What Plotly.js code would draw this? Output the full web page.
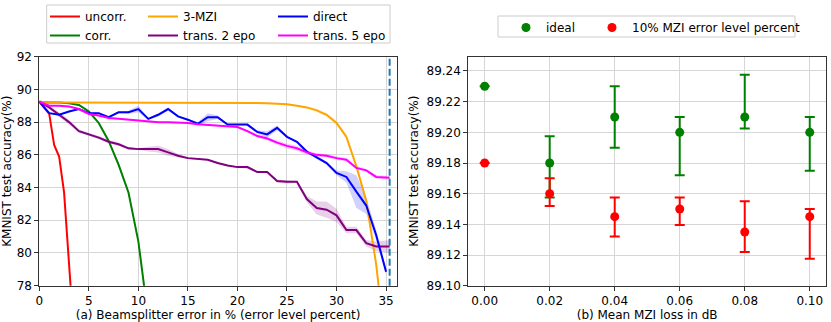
<!DOCTYPE html>
<html>
<head>
<meta charset="utf-8">
<script src="https://cdn.plot.ly/plotly-3.0.1.min.js"></script>
<style>
  html, body { margin: 0; padding: 0; background: #fff; }
  #chart { width: 831px; height: 322px; }
</style>
</head>
<body>
<div id="chart"></div>
<script>
// (a) accuracy vs beamsplitter error
const xUncorr = [0, 0.5, 1, 1.5, 2, 2.5, 3, 3.5];
const yUncorr = [89.25, 88.9, 88.5, 86.6, 85.9, 83.7, 79.6, 75.0];
const sUncorr = [0, 0.05, 0.1, 0.15, 0.15, 0.2, 0.2, 0.2];

const xCorr = [0, 1, 2, 3, 4, 5, 6, 7, 8, 9, 10, 11];
const yCorr = [89.25, 89.2, 89.2, 89.15, 89.05, 88.65, 87.95, 86.85, 85.4, 83.7, 80.7, 76.0];
const sCorr = [0, 0.02, 0.02, 0.03, 0.05, 0.08, 0.1, 0.12, 0.15, 0.15, 0.2, 0.2];

const xFull = [0, 1, 2, 3, 4, 5, 6, 7, 8, 9, 10, 11, 12, 13, 14, 15, 16, 17,
               18, 19, 20, 21, 22, 23, 24, 25, 26, 27, 28, 29, 30, 31, 32, 33, 34, 35];
const xTrans = [0, 1, 2, 3, 4, 5, 6, 7, 8, 9, 10, 11, 12, 13, 14, 15, 16, 17,
                18, 19, 20, 21, 22, 23, 24, 25, 26, 27, 28, 29, 30, 31, 32, 33, 34, 35.36];

const yMzi = [89.25, 89.2, 89.2, 89.2, 89.2, 89.2, 89.2, 89.2, 89.2, 89.2, 89.2, 89.2,
              89.2, 89.2, 89.2, 89.2, 89.2, 89.2, 89.2, 89.2, 89.2, 89.18, 89.17, 89.15,
              89.12, 89.1, 89.0, 88.9, 88.72, 88.45, 87.95, 87.1, 85.3, 83.2, 79.3, 74.0];
const sMzi = [0, 0, 0, 0, 0, 0, 0, 0, 0, 0, 0, 0, 0, 0, 0, 0, 0, 0, 0, 0, 0.02, 0.02,
              0.03, 0.03, 0.04, 0.05, 0.05, 0.06, 0.1, 0.12, 0.12, 0.15, 0.2, 0.2, 0.2, 0.2];

const yDirect = [89.25, 88.55, 88.45, 88.65, 88.8, 88.55, 88.55, 88.3, 88.6, 88.6, 88.8, 88.2,
                 88.45, 88.8, 88.35, 88.15, 87.9, 88.3, 88.3, 87.85, 87.85, 87.85, 87.4, 87.25,
                 87.65, 87.1, 86.8, 86.2, 85.85, 85.5, 84.9, 84.65, 83.75, 82.9, 81.1, 78.85];
const sDirect = [0, 0.05, 0.05, 0.05, 0.05, 0.05, 0.05, 0.05, 0.05, 0.1, 0.2, 0.05,
                 0.1, 0.1, 0.05, 0.05, 0.1, 0.25, 0.1, 0.05, 0.05, 0.05, 0.1, 0.2,
                 0.15, 0.05, 0.05, 0.05, 0.1, 0.1, 0.15, 0.35, 1.0, 0.5, 0.3, 0.2];

const yTrans2 = [89.25, 88.9, 88.45, 88.0, 87.45, 87.25, 87.05, 86.8, 86.65, 86.4, 86.35, 86.35,
                 86.35, 86.15, 85.95, 85.8, 85.75, 85.7, 85.5, 85.35, 85.25, 85.25, 84.95, 84.95,
                 84.4, 84.35, 84.35, 83.3, 82.75, 82.65, 82.3, 81.4, 81.4, 80.6, 80.4, 80.4];
const sTrans2 = [0, 0.1, 0.15, 0.15, 0.1, 0.1, 0.1, 0.1, 0.1, 0.1, 0.05, 0.15,
                 0.2, 0.2, 0.1, 0.05, 0.05, 0.05, 0.05, 0.05, 0.05, 0.1, 0.05, 0.05,
                 0.1, 0.1, 0.05, 0.2, 0.4, 0.5, 0.4, 0.2, 0.2, 0.2, 0.3, 0.4];

const yTrans5 = [89.25, 89.0, 89.0, 88.95, 88.8, 88.5, 88.4, 88.25, 88.2, 88.15, 88.1, 88.05,
                 88.0, 88.0, 87.97, 87.95, 87.87, 87.83, 87.8, 87.75, 87.7, 87.45, 87.15, 87.0,
                 86.75, 86.55, 86.4, 86.15, 86.0, 85.95, 85.8, 85.7, 85.2, 85.05, 84.65, 84.6];
const sTrans5 = [0, 0.05, 0.05, 0.05, 0.05, 0.05, 0.05, 0.05, 0.05, 0.05, 0.05, 0.05,
                 0.05, 0.05, 0.05, 0.05, 0.05, 0.05, 0.05, 0.05, 0.05, 0.08, 0.1, 0.1,
                 0.15, 0.15, 0.15, 0.15, 0.1, 0.1, 0.1, 0.1, 0.1, 0.1, 0.1, 0.1];

const threshold = 35.36;

// (b) accuracy vs MZI loss
const loss = [0.00, 0.02, 0.04, 0.06, 0.08, 0.10];
const yIdeal = [89.23, 89.18, 89.21, 89.20, 89.21, 89.20];
const idealUp = [0, 0.0175, 0.02, 0.01, 0.0275, 0.01];
const idealDown = [0, 0.0225, 0.02, 0.028, 0.0075, 0.025];
const yErr10 = [89.18, 89.16, 89.145, 89.15, 89.135, 89.145];
const err10Up = [0, 0.01, 0.0125, 0.0075, 0.02, 0.005];
const err10Down = [0, 0.008, 0.013, 0.0105, 0.013, 0.0275];

const FONT = 'DejaVu Sans, Arial, sans-serif';

function band(x, y, s, rgba) {
  const up = y.map((v, i) => v + s[i]);
  const lo = y.map((v, i) => v - s[i]);
  return [
    { x: x, y: up, type: 'scatter', mode: 'lines', line: { width: 0 }, hoverinfo: 'skip',
      showlegend: false, xaxis: 'x', yaxis: 'y' },
    { x: x, y: lo, type: 'scatter', mode: 'lines', line: { width: 0 }, fill: 'tonexty',
      fillcolor: rgba, hoverinfo: 'skip', showlegend: false, xaxis: 'x', yaxis: 'y' }
  ];
}

function line(x, y, name, color, legend) {
  return { x: x, y: y, name: name, type: 'scatter', mode: 'lines',
           line: { color: color, width: 2 }, xaxis: 'x', yaxis: 'y', legend: legend };
}

const traces = [].concat(
  band(xUncorr, yUncorr, sUncorr, 'rgba(255,0,0,0.18)'),
  band(xCorr, yCorr, sCorr, 'rgba(0,128,0,0.18)'),
  band(xFull, yMzi, sMzi, 'rgba(255,165,0,0.18)'),
  band(xFull, yDirect, sDirect, 'rgba(0,0,255,0.18)'),
  band(xTrans, yTrans2, sTrans2, 'rgba(128,0,128,0.18)'),
  band(xTrans, yTrans5, sTrans5, 'rgba(255,0,255,0.18)'),
  [
    line(xUncorr, yUncorr, 'uncorr.', '#ff0000', 'legend'),
    line(xCorr, yCorr, 'corr.', '#008000', 'legend'),
    line(xFull, yMzi, '3-MZI', '#ffa500', 'legend2'),
    line(xTrans, yTrans2, 'trans. 2 epo', '#800080', 'legend2'),
    line(xFull, yDirect, 'direct', '#0000ff', 'legend3'),
    line(xTrans, yTrans5, 'trans. 5 epo', '#ff00ff', 'legend3'),
    { x: loss, y: yIdeal, name: 'ideal', type: 'scatter', mode: 'markers',
      marker: { color: '#008000', size: 9 }, xaxis: 'x2', yaxis: 'y2', legend: 'legend4',
      error_y: { type: 'data', symmetric: false, array: idealUp, arrayminus: idealDown,
                 color: '#008000', thickness: 2, width: 5 } },
    { x: loss, y: yErr10, name: '10% MZI error level percent', type: 'scatter', mode: 'markers',
      marker: { color: '#ff0000', size: 9 }, xaxis: 'x2', yaxis: 'y2', legend: 'legend5',
      error_y: { type: 'data', symmetric: false, array: err10Up, arrayminus: err10Down,
                 color: '#ff0000', thickness: 2, width: 5 } }
  ]
);

const axisBase = {
  showline: true, mirror: true, linecolor: '#333', linewidth: 1,
  ticks: 'outside', ticklen: 4, tickcolor: '#333',
  showgrid: true, gridcolor: '#d6d6d6', gridwidth: 1, zeroline: false,
  tickfont: { family: FONT, size: 12, color: '#000' }
};

const legendBase = {
  orientation: 'v', traceorder: 'normal', bgcolor: 'rgba(0,0,0,0)', borderwidth: 0,
  font: { family: FONT, size: 12, color: '#000' }, itemwidth: 30,
  xanchor: 'left', yanchor: 'top', tracegroupgap: 0
};

const layout = {
  width: 831, height: 322,
  margin: { l: 0, r: 0, t: 0, b: 0 },
  paper_bgcolor: '#fff', plot_bgcolor: '#fff',
  font: { family: FONT, size: 12, color: '#000' },
  xaxis: Object.assign({}, axisBase, {
    domain: [0.0473, 0.4777], range: [0, 36.1], dtick: 5, tick0: 0, anchor: 'y',
    title: { text: '(a) Beamsplitter error in % (error level percent)', font: { size: 12 }, standoff: 1 }
  }),
  yaxis: Object.assign({}, axisBase, {
    domain: [0.1127, 0.8239], range: [78, 92], dtick: 2, tick0: 78, anchor: 'x',
    title: { text: 'KMNIST test accuracy(%)', font: { size: 12 }, standoff: 5 }
  }),
  xaxis2: Object.assign({}, axisBase, {
    domain: [0.5635, 0.994], range: [-0.00505, 0.105], dtick: 0.02, tick0: 0,
    tickformat: '.2f', anchor: 'y2',
    title: { text: '(b) Mean MZI loss in dB', font: { size: 12 }, standoff: 1 }
  }),
  yaxis2: Object.assign({}, axisBase, {
    domain: [0.1127, 0.8239], range: [89.10, 89.2493], dtick: 0.02, tick0: 89.10,
    tickformat: '.2f', anchor: 'x2',
    title: { text: 'KMNIST test accuracy(%)', font: { size: 12 }, standoff: 5 }
  }),
  legend: Object.assign({}, legendBase, { x: 45 / 831, y: 1 - 2 / 322 }),
  legend2: Object.assign({}, legendBase, { x: 143 / 831, y: 1 - 2 / 322 }),
  legend3: Object.assign({}, legendBase, { x: 273 / 831, y: 1 - 2 / 322 }),
  legend4: Object.assign({}, legendBase, { x: 506 / 831, y: 1 - 13 / 322 }),
  legend5: Object.assign({}, legendBase, { x: 592 / 831, y: 1 - 13 / 322 }),
  shapes: [
    { type: 'rect', xref: 'paper', yref: 'paper', x0: 46.7 / 831, x1: 390 / 831,
      y0: 1 - 43 / 322, y1: 1 - 5 / 322, line: { color: '#cccccc', width: 1 },
      fillcolor: '#ffffff', layer: 'above' },
    { type: 'rect', xref: 'paper', yref: 'paper', x0: 498 / 831, x1: 795 / 831,
      y0: 1 - 37 / 322, y1: 1 - 16 / 322, line: { color: '#cccccc', width: 1 },
      fillcolor: '#ffffff', layer: 'above' },
    { type: 'line', xref: 'x', yref: 'paper', x0: threshold, x1: threshold,
      y0: 0.1127, y1: 0.8239, line: { color: '#1f77b4', width: 2, dash: '7px,3px' } }
  ]
};

Plotly.newPlot('chart', traces, layout, { staticPlot: true });
</script>
</body>
</html>
